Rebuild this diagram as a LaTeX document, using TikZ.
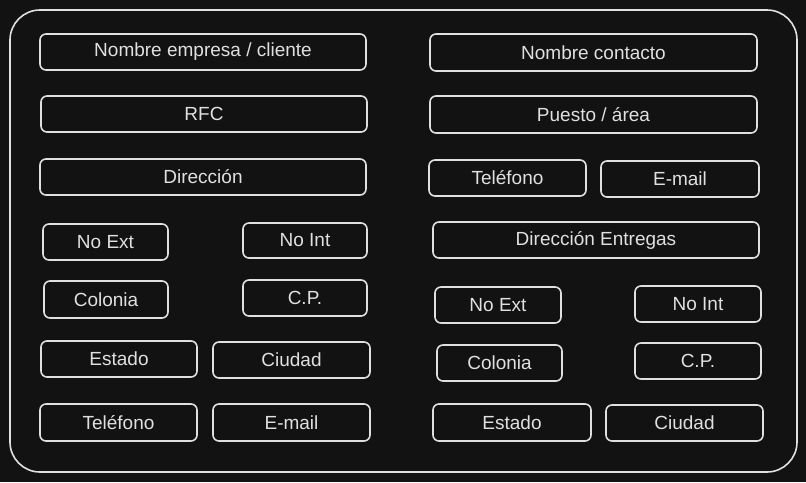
\documentclass[tikz,border=0pt]{standalone}
\usepackage{fontspec}
\setmainfont{Liberation Sans}
\usepackage{xcolor}
\usepackage{tikz}
\usetikzlibrary{positioning,calc}
\definecolor{bgdark}{HTML}{121212}
\definecolor{inkline}{HTML}{E0E0E0}

\tikzset{
    field/.style={draw=inkline, line width=1.6pt, rounded corners=6pt, inner sep=0pt,
        minimum height=36pt, text=inkline, font=\fontsize{19}{22}\selectfont},
}

\begin{document}
\begin{tikzpicture}[x=1pt, y=-1pt]
    \useasboundingbox[fill=bgdark] (0,0) rectangle (806,482);
    % Outer frame
    \draw[inkline, line width=1.6pt, rounded corners=30pt] (10,10) rectangle (797,472);

    % Client data (left column)
    \node[field, minimum width=326pt] (empresa) at (203,52) {Nombre empresa / cliente};
    \node[field, minimum width=326pt] (rfc) at (204,114) {RFC};
    \node[field, minimum width=326pt] (direccion) at (203,177) {Dirección};
    \node[field, minimum width=125pt] (noext) at (105.5,242) {No Ext};
    \node[field, minimum width=124pt, minimum height=35pt] (noint) at (305,240.5) {No Int};
    \node[field, minimum width=124pt, minimum height=37pt] (colonia) at (106,299.5) {Colonia};
    \node[field, minimum width=124pt] (cp) at (305,298) {C.P.};
    \node[field, minimum width=156pt] (estado) at (119,359) {Estado};
    \node[field, minimum width=157pt] (ciudad) at (291.5,360) {Ciudad};
    \node[field, minimum width=157pt, minimum height=37pt] (telefono) at (118.5,422.5) {Teléfono};
    \node[field, minimum width=157pt, minimum height=37pt] (email) at (291.5,422.5) {E-mail};

    % Contact and delivery (right column)
    \node[field, minimum width=327pt, minimum height=37pt] (contacto) at (593.5,52.5) {Nombre contacto};
    \node[field, minimum width=327pt, minimum height=37pt] (puesto) at (593.5,114.5) {Puesto / área};
    \node[field, minimum width=157pt] (telcontacto) at (507.5,178) {Teléfono};
    \node[field, minimum width=158pt] (emailcontacto) at (680,179) {E-mail};
    \node[field, minimum width=326pt] (entregas) at (596,240) {Dirección Entregas};
    \node[field, minimum width=126pt] (noextent) at (498,305) {No Ext};
    \node[field, minimum width=126pt] (nointent) at (698,304) {No Int};
    \node[field, minimum width=125pt] (coloniaent) at (499.5,363) {Colonia};
    \node[field, minimum width=126pt] (cpent) at (698,361) {C.P.};
    \node[field, minimum width=158pt, minimum height=37pt] (estadoent) at (512,422.5) {Estado};
    \node[field, minimum width=157pt] (ciudadent) at (684.5,423) {Ciudad};
\end{tikzpicture}
\end{document}
